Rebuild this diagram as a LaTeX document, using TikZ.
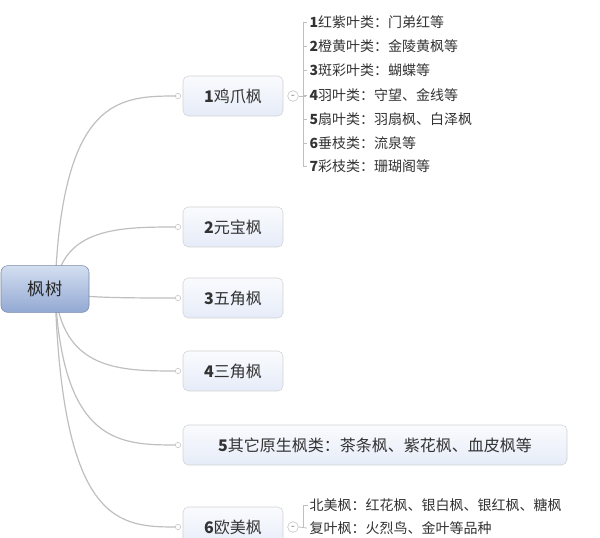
\documentclass[tikz,border=0pt]{standalone}
\usepackage{fontspec}
\setmainfont{Noto Sans CJK SC}
\definecolor{rtop}{HTML}{D3DEF0}
\definecolor{rbot}{HTML}{93A9D3}
\definecolor{btop}{HTML}{FAFBFE}
\definecolor{bbot}{HTML}{E6ECF8}
\begin{document}
\begin{tikzpicture}[x=0.75pt,y=-0.75pt,
  box/.style={draw=black!18,rounded corners=4pt,top color=btop,bottom color=bbot,minimum height=30pt,font=\fontsize{12}{14}\selectfont,text=black!80,inner xsep=12pt},
  root/.style={draw=rbot!80!black,rounded corners=5pt,top color=rtop,bottom color=rbot,minimum width=66pt,minimum height=35pt,font=\fontsize{13}{15}\selectfont,text=black!85},
  leaf/.style={anchor=west,inner sep=1pt,font=\fontsize{10.5}{12}\selectfont,text=black!80},
  con/.style={draw=black!25,line width=0.9pt},
  dot/.style={circle,draw=black!25,fill=white,inner sep=0pt,minimum size=4pt},
  tog/.style={circle,draw=black!25,fill=white,inner sep=0pt,minimum size=8pt,font=\tiny}]
\useasboundingbox (0,0) rectangle (600,538);
\coordinate (rc) at (55,289);
\foreach \i/\y in {1/96,2/227,3/298,4/371,5/445,6/527}{
  \coordinate (e\i) at (178,\y);
  \draw[con] (rc) .. controls (62,\y) and (120,\y) .. (e\i);
  \node[dot] at (e\i) {};
}
\node[root] (r) at (45,289) {枫树};
\node[box,minimum width=75pt] (b1) at (233,96) {\textbf{1}鸡爪枫};
\node[box,minimum width=75pt] (b2) at (233,227) {\textbf{2}元宝枫};
\node[box,minimum width=75pt] (b3) at (233,298) {\textbf{3}五角枫};
\node[box,minimum width=75pt] (b4) at (233,371) {\textbf{4}三角枫};
\node[box,minimum width=288pt] (b5) at (375,445) {\textbf{5}其它原生枫类：茶条枫、紫花枫、血皮枫等};
\node[box,minimum width=75pt] (b6) at (233,527) {\textbf{6}欧美枫};
\node[tog] (t1) at (293,96) {--};
\node[tog] (t6) at (293,527) {--};
\draw[con,line width=0.6pt] (303,22) -- (303,166);
\draw[con,line width=0.6pt] (t1.east) -- (306,96);
\foreach \y/\t in {22/{\textbf{1}红紫叶类：门弟红等},46/{\textbf{2}橙黄叶类：金陵黄枫等},70/{\textbf{3}斑彩叶类：蝴蝶等},95/{\textbf{4}羽叶类：守望、金线等},119/{\textbf{5}扇叶类：羽扇枫、白泽枫},143/{\textbf{6}垂枝类：流泉等},166/{\textbf{7}彩枝类：珊瑚阁等}}{
  \node[leaf] at (308,\y) {\t};
  \draw[con,line width=0.6pt] (303,\y) -- (307,\y);
}
\draw[con,line width=0.6pt] (303,505) -- (303,528);
\draw[con,line width=0.6pt] (t6.east) -- (307,528);
\node[leaf] (l61) at (308,505) {北美枫：红花枫、银白枫、银红枫、糖枫};
\node[leaf] (l62) at (308,528) {复叶枫：火烈鸟、金叶等品种};
\draw[con,line width=0.6pt] (303,505) -- (l61.west);
\end{tikzpicture}
\end{document}
